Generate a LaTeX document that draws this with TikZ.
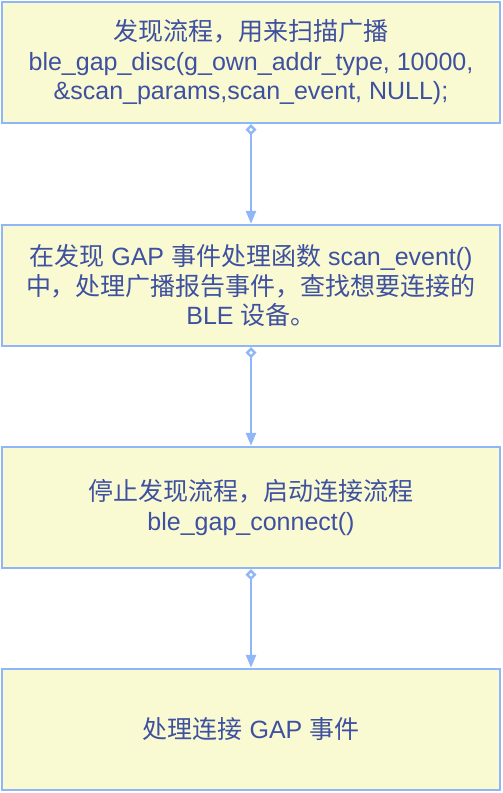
\documentclass[tikz,border=0pt]{standalone}
\usepackage{fontspec}
\setmainfont{Liberation Sans}
\newfontfamily\cjk{Noto Sans CJK SC}
\usetikzlibrary{arrows.meta}
\definecolor{boxfill}{RGB}{250,250,210}
\definecolor{boxline}{RGB}{143,182,247}
\definecolor{txt}{RGB}{62,80,160}
\tikzset{
  stepbox/.style={draw=boxline, line width=2.4pt, fill=boxfill, minimum width=498pt, minimum height=121pt,
    inner sep=0pt, align=center, text=txt, font=\fontsize{25}{29.5}\selectfont},
  flow/.style={draw=boxline, line width=2.4pt, {Diamond[open,fill=white,length=11pt,width=11pt]}-{Triangle[length=13pt,width=10pt]}}
}
\begin{document}
\begin{tikzpicture}[x=1pt,y=1pt]
\useasboundingbox (0,0) rectangle (503,-793);
\node[stepbox] (a) at (251,-62.5) {{\cjk 发现流程，用来扫描广播}\\ble\_gap\_disc(g\_own\_addr\_type, 10000,\\\&scan\_params,scan\_event, NULL);};
\node[stepbox] (b) at (251,-285.5) {{\cjk 在发现} GAP {\cjk 事件处理函数} scan\_event()\\{\cjk 中，处理广播报告事件，查找想要连接的}\\BLE {\cjk 设备。}};
\node[stepbox] (c) at (251,-507.5) {{\cjk 停止发现流程，启动连接流程}\\ble\_gap\_connect()};
\node[stepbox] (d) at (251,-729.5) {{\cjk 处理连接} GAP {\cjk 事件}};
\draw[flow] (a.south) -- (b.north);
\draw[flow] (b.south) -- (c.north);
\draw[flow] (c.south) -- (d.north);
\end{tikzpicture}
\end{document}
